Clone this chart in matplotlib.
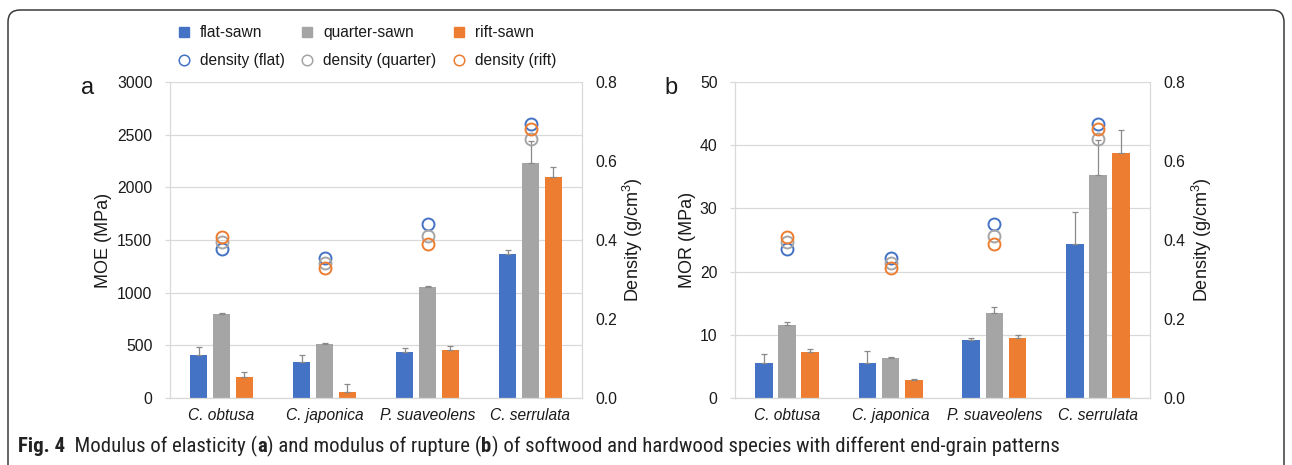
import matplotlib
matplotlib.use("Agg")
import matplotlib.pyplot as plt
import numpy as np
from matplotlib import font_manager as fm
from matplotlib.lines import Line2D
from matplotlib.patches import FancyBboxPatch
from matplotlib.transforms import IdentityTransform

# ---------------- data ----------------
categories = ['C. obtusa', 'C. japonica', 'P. suaveolens', 'C. serrulata']

moe_flat = [405, 345, 440, 1364]
moe_flat_err = [75, 60, 30, 45]
moe_quarter = [794, 513, 1051, 2228]
moe_quarter_err = [12, 6, 10, 215]
moe_rift = [199, 60, 456, 2101]
moe_rift_err = [45, 70, 35, 95]

mor_flat = [5.5, 5.5, 9.2, 24.4]
mor_flat_err = [1.5, 2.0, 0.35, 5.0]
mor_quarter = [11.5, 6.4, 13.5, 35.3]
mor_quarter_err = [0.6, 0.12, 0.85, 5.5]
mor_rift = [7.2, 2.8, 9.5, 38.7]
mor_rift_err = [0.55, 0.25, 0.5, 3.7]

dens_flat = [0.377, 0.355, 0.440, 0.693]
dens_quarter = [0.394, 0.343, 0.410, 0.656]
dens_rift = [0.408, 0.328, 0.391, 0.680]

moe_ticks = [0, 500, 1000, 1500, 2000, 2500, 3000]
mor_ticks = [0, 10, 20, 30, 40, 50]
dens_ticks = [0.0, 0.2, 0.4, 0.6, 0.8]

series_labels = ['flat-sawn', 'quarter-sawn', 'rift-sawn']
density_labels = ['density (flat)', 'density (quarter)', 'density (rift)']

# ---------------- style ----------------
plt.rcParams['font.family'] = ['Liberation Sans', 'DejaVu Sans']
plt.rcParams['mathtext.fontset'] = 'custom'
plt.rcParams['mathtext.rm'] = 'Liberation Sans'
plt.rcParams['mathtext.it'] = 'Liberation Sans:italic'

BLUE, GRAY, ORANGE = '#4472C4', '#A5A5A5', '#ED7D31'
colors = [BLUE, GRAY, ORANGE]
GRID = '#D9D9D9'
ERR = '#8A8A8A'
TXT = '#1a1a1a'

W, H = 1292, 465
fig = plt.figure(figsize=(W / 100, H / 100), dpi=100)


def rect(l, r, t, b):
    return [l / W, 1 - b / H, (r - l) / W, (b - t) / H]


def panel(box, bars, errs, ylim, yticks, ylabel, lab, lab_x, ylab_x, dlab_x):
    ax = fig.add_axes(rect(*box))
    x = np.arange(len(categories))
    width, step = 0.17, 0.223
    for i, (vals, err, c) in enumerate(zip(bars, errs, colors)):
        ax.bar(x + (i - 1) * step, vals, width=width, color=c, zorder=2,
               yerr=[np.zeros(len(err)), err],
               error_kw=dict(ecolor=ERR, elinewidth=0.9, capsize=2.5, capthick=0.9, zorder=3))
    ax.set_xlim(-0.5, len(categories) - 0.5)
    ax.set_ylim(*ylim)
    ax.set_yticks(yticks)
    ax.set_xticks(x)
    ax.set_xticklabels(categories, style='italic', fontsize=11.2, color=TXT)
    ax.grid(axis='y', color=GRID, lw=0.9, zorder=0)
    ax.set_axisbelow(True)
    for s in ['left', 'right', 'bottom']:
        ax.spines[s].set_color(GRID)
        ax.spines[s].set_linewidth(0.9)
    ax.spines['top'].set_visible(False)
    ax.tick_params(axis='y', length=3.6, width=0.9, color=GRID, labelsize=11.3,
                   labelcolor=TXT, pad=9.0)
    ax.tick_params(axis='x', length=0, pad=7)

    ax2 = ax.twinx()
    for d, c in zip([dens_flat, dens_quarter, dens_rift], colors):
        ax2.plot(x, d, ls='none', marker='o', markersize=8.6, mfc='none', mec=c, mew=1.4, zorder=4)
    ax2.set_ylim(0, 0.8)
    ax2.set_yticks(dens_ticks)
    ax2.set_yticklabels([f'{v:.1f}' for v in dens_ticks])
    for s in ax2.spines.values():
        s.set_visible(False)
    ax2.tick_params(axis='y', length=0, labelsize=11.3, labelcolor=TXT, pad=9.4)

    ax.set_ylabel(ylabel, fontsize=13, color=TXT)
    ax.yaxis.label.set_verticalalignment('center')
    l, r = box[0], box[1]
    ax.yaxis.set_label_coords((ylab_x - l) / (r - l), 0.5)
    ax2.set_ylabel('Density (g/cm$^{3}$)', fontsize=13, color=TXT)
    ax2.yaxis.label.set_verticalalignment('center')
    ax2.yaxis.set_label_coords((dlab_x - l) / (r - l), 0.5)

    fig.text(lab_x / W, 1 - 88 / H, lab, fontsize=17, ha='center', va='center', color=TXT)
    return ax


panel((170, 582, 82, 398), [moe_flat, moe_quarter, moe_rift],
      [moe_flat_err, moe_quarter_err, moe_rift_err], (0, 3000), moe_ticks,
      'MOE (MPa)', 'a', 88, 103, 633)
panel((735, 1150, 82, 398), [mor_flat, mor_quarter, mor_rift],
      [mor_flat_err, mor_quarter_err, mor_rift_err], (0, 50), mor_ticks,
      'MOR (MPa)', 'b', 671, 687, 1202)

# ---------------- legend ----------------
handles, labels = [], []
for c, sl, dl in zip(colors, series_labels, density_labels):
    handles.append(Line2D([], [], ls='none', marker='s', markersize=7.2, color=c))
    labels.append(sl)
    handles.append(Line2D([], [], ls='none', marker='o', markersize=7.6, mfc='none', mec=c, mew=1.1))
    labels.append(dl)
fig.legend(handles, labels, ncol=3, loc='upper left', bbox_to_anchor=(176 / W, 1 - 25 / H),
           frameon=False, fontsize=11.2, handlelength=1.0, handletextpad=0.53,
           columnspacing=0.95, labelspacing=0.85, borderpad=0, borderaxespad=0,
           labelcolor=TXT)

# ---------------- border ----------------
fig.patches.append(FancyBboxPatch((8, -40), 1276, 495, boxstyle='round,pad=0,rounding_size=12',
                                  transform=IdentityTransform(), fill=False, ec='#3a3a3a', lw=1.1))


# ---------------- caption ----------------
def has(f):
    try:
        fm.findfont(fm.FontProperties(family=f), fallback_to_default=False)
        return True
    except Exception:
        return False


cap_family = next((f for f in ['Liberation Sans Narrow', 'Roboto Condensed', 'Open Sans Condensed']
                   if has(f)), 'Liberation Sans')
pieces = [('Fig. 4', 'bold'), ('  Modulus of elasticity (', 'normal'), ('a', 'bold'),
          (') and modulus of rupture (', 'normal'), ('b', 'bold'),
          (') of softwood and hardwood species with different end-grain patterns', 'normal')]
renderer = fig.canvas.get_renderer()


def draw_caption(size):
    x = 18
    arts = []
    for s, w in pieces:
        t = fig.text(x / W, 1 - 452 / H, s, fontsize=size, fontweight=w, family=cap_family,
                     ha='left', va='baseline', color='#222222')
        bb = t.get_window_extent(renderer)
        x = bb.x1
        arts.append(t)
    return x, arts


end, arts = draw_caption(11)
for a in arts:
    a.remove()
size = 11 * (1059 - 18) / (end - 18)
draw_caption(size)

fig.savefig('out.png', dpi=100)
